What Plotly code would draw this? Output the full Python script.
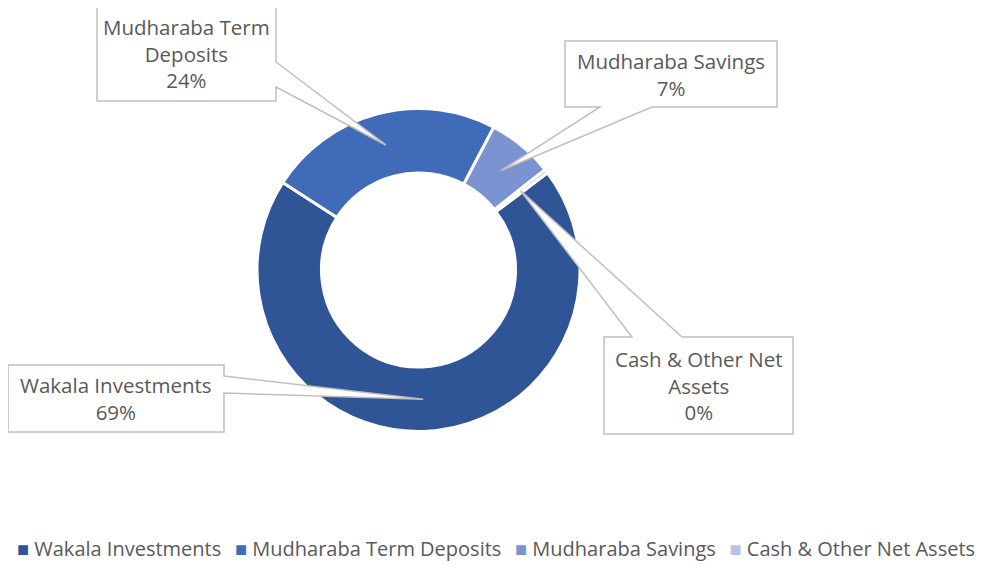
import math
import plotly.graph_objects as go

# portfolio mix (share of fund, %)
labels = ["Wakala Investments", "Mudharaba Term Deposits", "Mudharaba Savings", "Cash & Other Net Assets"]
values = [69.4, 23.6, 6.6, 0.4]
callout_text = ["Wakala Investments", "Mudharaba Term<br>Deposits", "Mudharaba Savings", "Cash & Other Net<br>Assets"]
colors = ["#2F5597", "#3F6BB8", "#7B93D0", "#B4C4E6"]

# page is offset by the 8px body margin
OFF = 8
W, H = 993 - 2 * OFF, 572 - 2 * OFF


def px(x):
    return (x - OFF) / W


def py(y):
    return 1 - (y - OFF) / H


CX, CY, R_OUT, R_IN = 418.5, 270, 161.5, 97
ROT = 53

fig = go.Figure()
fig.add_trace(go.Pie(
    labels=labels, values=values,
    hole=R_IN / R_OUT, sort=False, direction="clockwise", rotation=ROT,
    marker=dict(colors=colors, line=dict(color="white", width=3)),
    textinfo="none", hoverinfo="label+percent", showlegend=False,
    domain=dict(x=[px(CX - R_OUT), px(CX + R_OUT)], y=[py(CY + R_OUT), py(CY - R_OUT)]),
))

# callout boxes: box (x0, y0, x1, y1), side the pointer leaves from, pointer base span (page px)
boxes = [
    ((8, 365, 224, 432), "right", (376, 393)),
    ((97, 6, 276, 101), "right", (62, 87)),
    ((565, 41, 777, 107), "bottom", (600, 652)),
    ((604, 337, 793, 434), "top", (632, 682)),
]

total = sum(values)
start = ROT
r_tip = (R_OUT + R_IN) / 2
for txt, v, (box, side, base) in zip(callout_text, values, boxes):
    # pointer tip sits in the middle of its slice
    mid = math.radians(start + v / total * 360 / 2)
    start += v / total * 360
    tx, ty = CX + r_tip * math.sin(mid), CY - r_tip * math.cos(mid)
    x0, y0, x1, y1 = box
    if side == "right":
        pts = [(x0, y0), (x1, y0), (x1, base[0]), (tx, ty), (x1, base[1]), (x1, y1), (x0, y1)]
    elif side == "bottom":
        pts = [(x0, y0), (x1, y0), (x1, y1), (base[1], y1), (tx, ty), (base[0], y1), (x0, y1)]
    else:
        pts = [(x0, y0), (base[0], y0), (tx, ty), (base[1], y0), (x1, y0), (x1, y1), (x0, y1)]
    path = "M " + " L ".join(f"{px(a):.5f},{py(b):.5f}" for a, b in pts) + " Z"
    fig.add_shape(type="path", path=path, xref="paper", yref="paper",
                  fillcolor="white", line=dict(color="#BFBFBF", width=1.5), layer="above")
    fig.add_annotation(
        x=px((x0 + x1) / 2), y=py((y0 + y1) / 2), xref="paper", yref="paper",
        xanchor="center", yanchor="middle", showarrow=False,
        text=f"{txt}<br>{round(v)}%",
        font=dict(family="Open Sans", size=20.5, color="#595959"),
    )

# legend row
items = []
for lab, col in zip(labels, colors):
    items.append(f"<span style='color:{col}'>■</span>\u00a0{lab}")
fig.add_annotation(
    x=px(496), y=0, xref="paper", yref="paper",
    xanchor="center", yanchor="bottom", showarrow=False,
    text="\u00a0\u00a0\u2009".join(items),
    font=dict(family="Open Sans", size=20, color="#595959"),
)

fig.update_layout(
    width=W, height=H,
    margin=dict(l=0, r=0, t=0, b=0),
    paper_bgcolor="white",
    showlegend=False,
)

fig.write_html("out.html")
